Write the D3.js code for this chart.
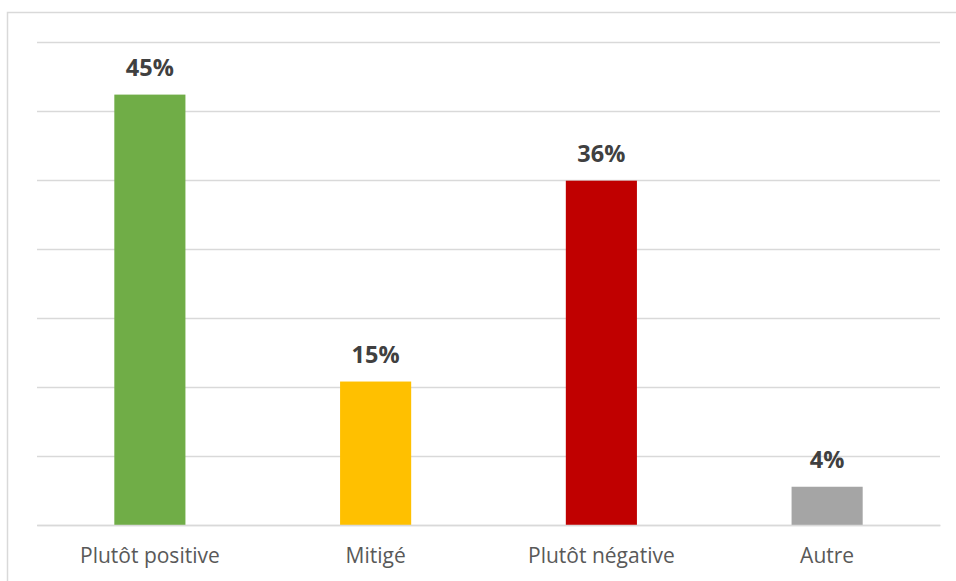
<!DOCTYPE html>
<html>
<head>
<meta charset="utf-8">
<script src="https://cdn.jsdelivr.net/npm/d3@7"></script>
<style>
  body { margin: 0; background: #fff; }
  svg { display: block; }
</style>
</head>
<body>
<div id="chart"></div>
<script>
var categories = ["Plutôt positive", "Mitigé", "Plutôt négative", "Autre"];
var values = [45, 15, 36, 4];
var colors = ["#70ad47", "#ffc000", "#c00000", "#a5a5a5"];

var W = 956, H = 581;
var margin = { top: 42, right: 16, bottom: 56, left: 37 };
var iW = W - margin.left - margin.right;
var iH = H - margin.top - margin.bottom;
var font = "'Open Sans', Lato, sans-serif";

var svg = d3.select("#chart").append("svg").attr("width", W).attr("height", H);

// chart frame
svg.append("rect")
  .attr("x", 7.5).attr("y", 12.5)
  .attr("width", W).attr("height", H)
  .attr("fill", "none").attr("stroke", "#d9d9d9").attr("stroke-width", 1.5);

var g = svg.append("g").attr("transform", "translate(" + margin.left + "," + margin.top + ")");

var yMax = 50.5;
var x = d3.scaleBand().domain(categories).range([0, iW]).padding(0);
var y = d3.scaleLinear().domain([0, yMax]).range([iH, 0]);

// gridlines (7 equal intervals)
var gridVals = d3.range(8).map(function (i) { return i * yMax / 7; });
g.append("g")
  .call(d3.axisLeft(y).tickValues(gridVals).tickSize(-iW).tickFormat(""))
  .call(function (s) {
    s.select(".domain").remove();
    s.selectAll(".tick line").attr("stroke", "#d9d9d9").attr("stroke-width", 1.3);
  });

var barW = x.bandwidth() * 0.315;

g.selectAll(".bar")
  .data(values)
  .join("rect")
  .attr("class", "bar")
  .attr("x", function (d, i) { return x(categories[i]) + (x.bandwidth() - barW) / 2; })
  .attr("width", barW)
  .attr("y", function (d) { return y(d); })
  .attr("height", function (d) { return iH - y(d); })
  .attr("fill", function (d, i) { return colors[i]; });

// value labels
g.selectAll(".val")
  .data(values)
  .join("text")
  .attr("class", "val")
  .attr("x", function (d, i) { return x(categories[i]) + x.bandwidth() / 2; })
  .attr("y", function (d) { return y(d) - 19; })
  .attr("text-anchor", "middle")
  .attr("font-family", font)
  .attr("font-weight", "bold")
  .attr("font-size", 23.5)
  .attr("fill", "#404040")
  .text(function (d) { return d + "%"; });

// x axis
g.append("g")
  .attr("transform", "translate(0," + iH + ")")
  .call(d3.axisBottom(x).tickSize(0).tickPadding(23))
  .call(function (s) {
    s.select(".domain").attr("stroke", "#d9d9d9").attr("stroke-width", 1.3);
    s.selectAll("text")
      .attr("font-family", font)
      .attr("font-size", 21)
      .attr("fill", "#595959");
  });
</script>
</body>
</html>
